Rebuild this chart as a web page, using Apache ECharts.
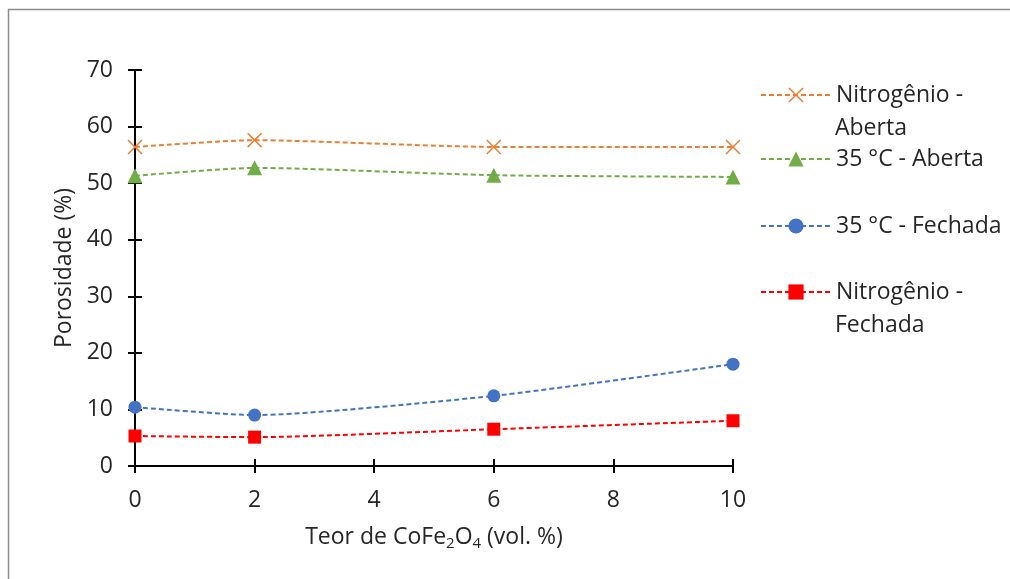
<!DOCTYPE html>
<html><head><meta charset="utf-8">
<script src="https://cdn.jsdelivr.net/npm/echarts@6/dist/echarts.min.js"></script>
<style>html,body{margin:0;padding:0;background:#fff;}#c{width:1010px;height:579px;}</style>
</head><body><div id="c"></div>
<script>
const xValues = [0, 2, 6, 10];
const nitrogenioAberta = [56.4, 57.6, 56.4, 56.4];
const c35Aberta = [51.3, 52.7, 51.4, 51.1];
const c35Fechada = [10.4, 9.0, 12.4, 18.0];
const nitrogenioFechada = [5.3, 5.1, 6.5, 8.0];
const seriesNames = ['Nitrogênio - Aberta', '35 °C - Aberta', '35 °C - Fechada', 'Nitrogênio - Fechada'];
const legendFirstLines = ['Nitrogênio -', '35 °C - Aberta', '35 °C - Fechada', 'Nitrogênio -'];
const legendSecondLines = ['Aberta', '', '', 'Fechada'];
const xTicks = {min: 0, max: 10, interval: 2};
const yTicks = {min: 0, max: 70, interval: 10};

const FONT = '"Open Sans", sans-serif';
const FS = 23;
const TXT = '#262626';
const colors = ['#ED7D31', '#70AD47', '#4472C4', '#FF0000'];
const symbols = [
  'path://M0,0.7L0.7,0L5,4.3L9.3,0L10,0.7L5.7,5L10,9.3L9.3,10L5,5.7L0.7,10L0,9.3L4.3,5Z',
  'triangle', 'circle', 'rect'
];
const symbolSizes = [15, 15, 13, 13];
const dataArr = [nitrogenioAberta, c35Aberta, c35Fechada, nitrogenioFechada];

const pair = arr => xValues.map((x, i) => [x, arr[i]]);

const series = dataArr.map((d, i) => ({
  name: seriesNames[i],
  type: 'line',
  data: pair(d),
  smooth: 0.2,
  symbol: symbols[i],
  symbolSize: symbolSizes[i],
  showAllSymbol: true,
  lineStyle: {color: colors[i], width: 2, type: [5, 3]},
  itemStyle: {color: colors[i]},
  z: 10 - i
}));

const legendCenters = [95, 159, 226, 292];
const legends = seriesNames.map((n, i) => ({
  data: [n],
  orient: 'vertical',
  left: 760,
  top: legendCenters[i] - 15,
  itemWidth: 70,
  itemHeight: 19,
  padding: 0,
  formatter: () => legendFirstLines[i],
  textStyle: {fontFamily: FONT, fontSize: FS, color: TXT, lineHeight: 30}
}));

const graphics = [{
  type: 'rect', shape: {x: 8.5, y: 9.5, width: 1100, height: 700},
  style: {fill: 'none', stroke: '#8c8c8c', lineWidth: 1.5}, silent: true, z: -10
}];
legendSecondLines.forEach((t, i) => {
  if (!t) return;
  graphics.push({
    type: 'text', left: 835, top: legendCenters[i] + 33 - 15,
    style: {text: t, fontFamily: FONT, fontSize: FS, fill: TXT, lineHeight: 30}
  });
});

const axisLine = {show: true, lineStyle: {color: '#000', width: 2}};
const option = {
  backgroundColor: '#fff',
  animation: false,
  grid: {left: 135, right: 277, top: 70, bottom: 113, containLabel: false},
  xAxis: [{
    type: 'value', position: 'bottom', ...xTicks,
    axisLine, axisTick: {show: true, inside: false, length: 7, lineStyle: {color: '#000', width: 2}},
    axisLabel: {margin: 23, fontFamily: FONT, fontSize: FS, color: TXT},
    splitLine: {show: false},
    name: 'Teor de CoFe{s|2}O{s|4} (vol. %)',
    nameLocation: 'middle', nameGap: 57,
    nameTextStyle: {fontFamily: FONT, fontSize: FS, color: TXT,
      rich: {s: {fontFamily: FONT, fontSize: 15, color: TXT, padding: [13, 0, 0, 0]}}}
  }, {
    type: 'value', position: 'bottom', ...xTicks,
    axisLine, axisTick: {show: true, inside: true, length: 7, lineStyle: {color: '#000', width: 2}},
    axisLabel: {show: false}, splitLine: {show: false}
  }],
  yAxis: [{
    type: 'value', position: 'left', ...yTicks,
    axisLine, axisTick: {show: true, inside: false, length: 7, lineStyle: {color: '#000', width: 2}},
    axisLabel: {margin: 22, fontFamily: FONT, fontSize: FS, color: TXT},
    splitLine: {show: false},
    name: 'Porosidade (%)', nameLocation: 'middle', nameGap: 56, nameRotate: 90,
    nameTextStyle: {fontFamily: FONT, fontSize: FS, color: TXT}
  }, {
    type: 'value', position: 'left', ...yTicks,
    axisLine, axisTick: {show: true, inside: true, length: 7, lineStyle: {color: '#000', width: 2}},
    axisLabel: {show: false}, splitLine: {show: false}
  }],
  legend: legends,
  graphic: graphics,
  series
};
const chart = echarts.init(document.getElementById('c'), null, {renderer: 'canvas'});
chart.setOption(option);
</script></body></html>
